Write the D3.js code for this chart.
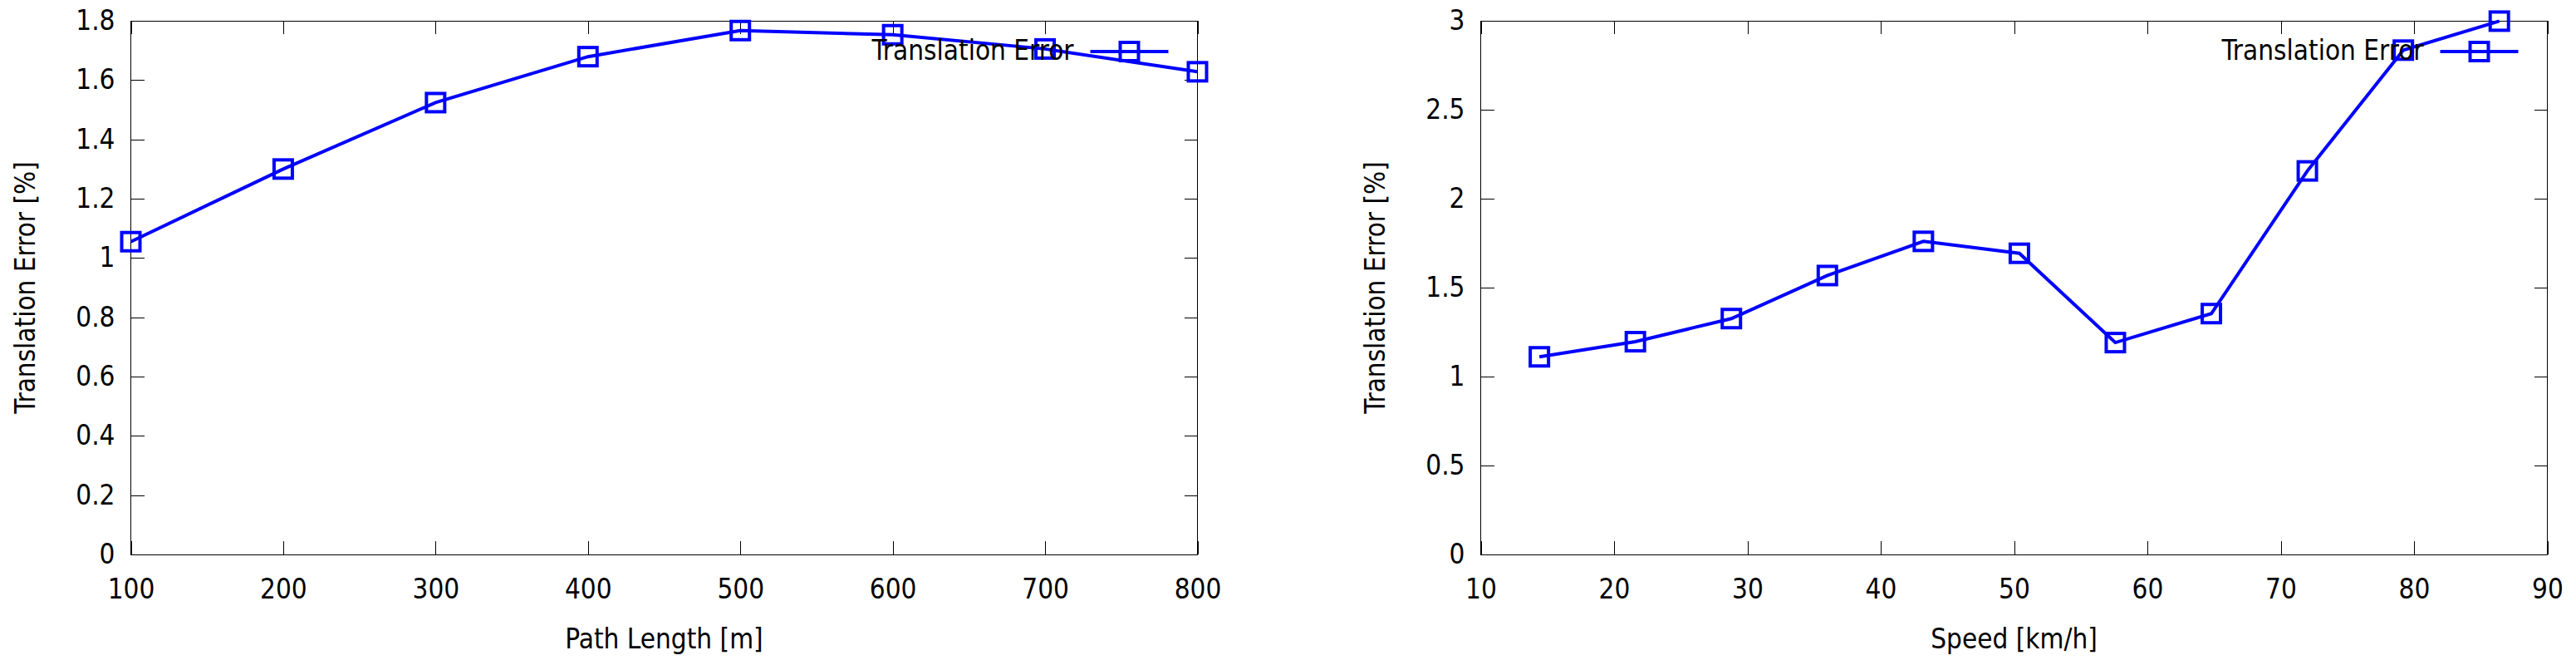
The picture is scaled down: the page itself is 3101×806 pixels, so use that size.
<!DOCTYPE html>
<html>
<head>
<meta charset="utf-8">
<script src="https://cdn.jsdelivr.net/npm/d3@7/dist/d3.min.js"></script>
<style>
  html, body { margin: 0; padding: 0; background: #fff; }
  svg { display: block; }
  text { font-family: "DejaVu Sans Condensed", "DejaVu Sans", sans-serif; font-stretch: condensed; font-size: 33px; fill: #000; }
</style>
</head>
<body>
<svg id="chart" width="3101" height="806"></svg>
<script>
// ---- Data ----
const pathLengths = [100, 200, 300, 400, 500, 600, 700, 800];
const pathErrors  = [1.055, 1.300, 1.524, 1.679, 1.767, 1.753, 1.705, 1.628];

const speeds      = [14.4, 21.6, 28.8, 36.0, 43.2, 50.4, 57.6, 64.8, 72.0, 79.2, 86.4];
const speedErrors = [1.111, 1.196, 1.326, 1.568, 1.760, 1.693, 1.191, 1.354, 2.156, 2.835, 2.998];

const pathXTicks  = [100, 200, 300, 400, 500, 600, 700, 800];
const pathYTicks  = [0, 0.2, 0.4, 0.6, 0.8, 1, 1.2, 1.4, 1.6, 1.8];
const speedXTicks = [10, 20, 30, 40, 50, 60, 70, 80, 90];
const speedYTicks = [0, 0.5, 1, 1.5, 2, 2.5, 3];

const seriesName = "Translation Error";
const yTitle = "Translation Error [%]";

const svg = d3.select("#chart");
const COLOR = "#0000ff";

function drawPanel(cfg) {
  const { left, right, top, bottom, xDomain, yDomain, xTicks, yTicks, xs, ys, xTitle } = cfg;
  const x = d3.scaleLinear().domain(xDomain).range([left, right]);
  const y = d3.scaleLinear().domain(yDomain).range([bottom, top]);
  const g = svg.append("g");
  const fmt = d => String(+d.toFixed(2));

  // bottom axis
  const ax = g.append("g").attr("transform", `translate(0,${bottom})`)
    .call(d3.axisBottom(x).tickValues(xTicks).tickFormat(fmt).tickSizeInner(-16).tickSizeOuter(0).tickPadding(30));
  // left axis
  const ay = g.append("g").attr("transform", `translate(${left},0)`)
    .call(d3.axisLeft(y).tickValues(yTicks).tickFormat(fmt).tickSizeInner(-16).tickSizeOuter(0).tickPadding(19));
  // top mirror ticks
  const at = g.append("g").attr("transform", `translate(0,${top})`)
    .call(d3.axisTop(x).tickValues(xTicks).tickFormat("").tickSizeInner(-16).tickSizeOuter(0));
  // right mirror ticks
  const ar = g.append("g").attr("transform", `translate(${right},0)`)
    .call(d3.axisRight(y).tickValues(yTicks).tickFormat("").tickSizeInner(-16).tickSizeOuter(0));

  [ax, ay, at, ar].forEach(a => {
    a.select(".domain").remove();
    a.selectAll("line").attr("stroke", "#000").attr("stroke-width", 1).attr("shape-rendering", "crispEdges");
    a.selectAll("text").attr("font-size", null).attr("font-family", null).attr("fill", "#000");
  });

  // frame
  g.append("rect")
    .attr("x", left).attr("y", top)
    .attr("width", right - left).attr("height", bottom - top)
    .attr("fill", "none").attr("stroke", "#000").attr("stroke-width", 1)
    .attr("shape-rendering", "crispEdges");

  // axis titles
  g.append("text")
    .attr("x", (left + right) / 2).attr("y", 770)
    .attr("text-anchor", "middle").attr("dominant-baseline", "middle")
    .text(xTitle);
  g.append("text")
    .attr("transform", `translate(${left - 125},${(top + bottom) / 2}) rotate(-90)`)
    .attr("text-anchor", "middle").attr("dominant-baseline", "middle")
    .text(yTitle);

  // data line
  const pts = xs.map((v, i) => [v, ys[i]]);
  g.append("path")
    .datum(pts)
    .attr("fill", "none").attr("stroke", COLOR).attr("stroke-width", 4)
    .attr("stroke-linejoin", "miter")
    .attr("d", d3.line().x(d => x(d[0])).y(d => y(d[1])));

  // markers
  const S = 22;
  g.selectAll("rect.mk").data(pts).enter().append("rect")
    .attr("class", "mk")
    .attr("x", d => x(d[0]) - S / 2).attr("y", d => y(d[1]) - S / 2)
    .attr("width", S).attr("height", S)
    .attr("fill", "none").attr("stroke", COLOR).attr("stroke-width", 4);

  // legend
  const lx2 = right - 35, lx1 = lx2 - 94, ly = 62;
  g.append("line").attr("x1", lx1).attr("x2", lx2).attr("y1", ly).attr("y2", ly)
    .attr("stroke", COLOR).attr("stroke-width", 4);
  g.append("rect").attr("x", (lx1 + lx2) / 2 - S / 2).attr("y", ly - S / 2)
    .attr("width", S).attr("height", S)
    .attr("fill", "none").attr("stroke", COLOR).attr("stroke-width", 4);
  g.append("text").attr("x", lx1 - 20).attr("y", ly)
    .attr("text-anchor", "end").attr("dominant-baseline", "middle")
    .text(seriesName);
}

drawPanel({
  left: 157.5, right: 1441.5, top: 25, bottom: 667,
  xDomain: [100, 800], yDomain: [0, 1.8],
  xTicks: pathXTicks, yTicks: pathYTicks,
  xs: pathLengths, ys: pathErrors,
  xTitle: "Path Length [m]"
});

drawPanel({
  left: 1782.5, right: 3066.5, top: 25, bottom: 667,
  xDomain: [10, 90], yDomain: [0, 3],
  xTicks: speedXTicks, yTicks: speedYTicks,
  xs: speeds, ys: speedErrors,
  xTitle: "Speed [km/h]"
});
</script>
</body>
</html>
